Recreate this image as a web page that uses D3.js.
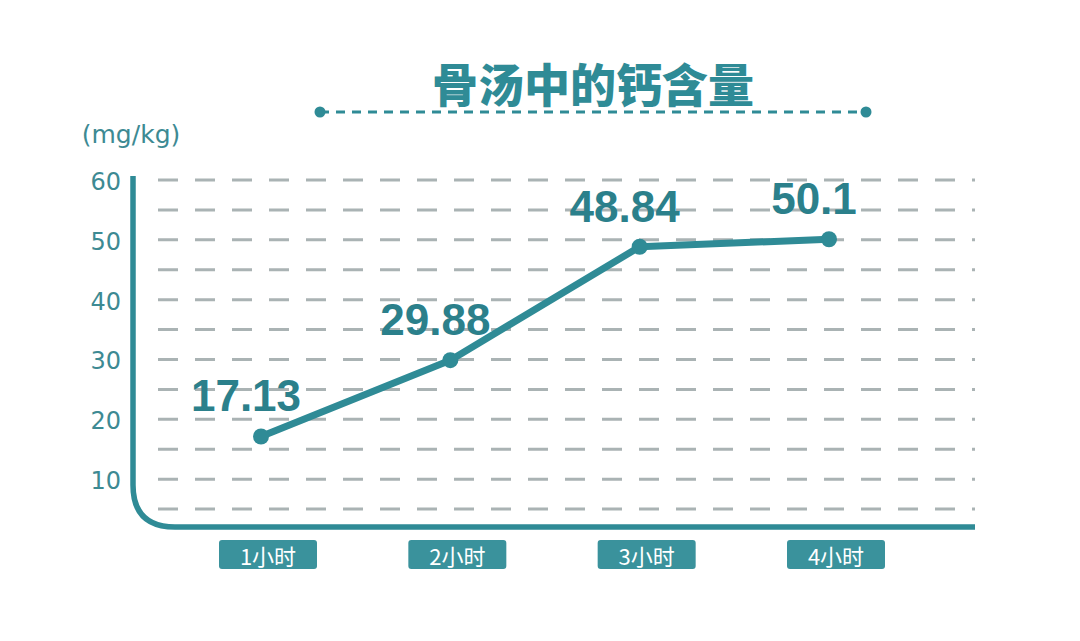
<!DOCTYPE html>
<html><head><meta charset="utf-8">
<script src="https://cdn.jsdelivr.net/npm/d3@7"></script>
<style>body{margin:0;background:#fff}svg{display:block}</style>
</head><body>
<script>
const categories = ["1小时", "2小时", "3小时", "4小时"];
const values = [17.13, 29.88, 48.84, 50.1];
const valueLabels = ["17.13", "29.88", "48.84", "50.1"];
const yTicks = [10, 20, 30, 40, 50, 60];
const gridValues = [5, 10, 15, 20, 25, 30, 35, 40, 45, 50, 55, 60];
const title = "骨汤中的钙含量";
const unit = "(mg/kg)";

const W = 1080, H = 641;
const teal = "#2f8b96";
const svg = d3.select("body").append("svg").attr("width", W).attr("height", H);
svg.append("rect").attr("width", W).attr("height", H).attr("fill", "#fff");

const x = d3.scalePoint().domain(categories).range([261, 829]);
const y = d3.scaleLinear().domain([2, 60]).range([527, 180]);

// grid
svg.append("g").selectAll("line").data(gridValues).join("line")
  .attr("x1", 158).attr("x2", 975)
  .attr("y1", d => y(d)).attr("y2", d => y(d))
  .attr("stroke", "#aab3b4").attr("stroke-width", 3)
  .attr("stroke-dasharray", "20 17");

// axis: vertical + rounded corner + baseline
const x0 = 133, yTop = 176, yBase = y(2), r = 42;
svg.append("path")
  .attr("d", `M${x0},${yTop} L${x0},${yBase - r} Q${x0},${yBase} ${x0 + r},${yBase} L975,${yBase}`)
  .attr("fill", "none").attr("stroke", teal).attr("stroke-width", 5.5);

// y ticks
svg.append("g").selectAll("text").data(yTicks).join("text")
  .attr("x", 121).attr("y", d => y(d) + 3)
  .attr("text-anchor", "end").attr("dominant-baseline", "middle")
  .attr("font-family", "'DejaVu Sans', sans-serif").attr("font-size", 24)
  .attr("fill", "#3d8a93").text(d => d);

svg.append("text").attr("x", 131).attr("y", 143).attr("text-anchor", "middle")
  .attr("font-family", "'DejaVu Sans', sans-serif").attr("font-size", 25)
  .attr("fill", "#3d8a93").text(unit);

// title
svg.append("text").attr("x", 593).attr("y", 102).attr("text-anchor", "middle")
  .attr("font-family", "'Noto Sans CJK SC', sans-serif").attr("font-weight", 900)
  .attr("font-size", 46).attr("fill", teal).text(title);
svg.append("line").attr("x1", 320).attr("x2", 866).attr("y1", 112).attr("y2", 112)
  .attr("stroke", teal).attr("stroke-width", 3).attr("stroke-dasharray", "9 7");
svg.append("g").selectAll("circle").data([320, 866]).join("circle")
  .attr("cx", d => d).attr("cy", 112).attr("r", 5.5).attr("fill", teal);

// line
const line = d3.line().x((d, i) => x(categories[i])).y(d => y(d));
svg.append("path").datum(values).attr("d", line)
  .attr("fill", "none").attr("stroke", teal).attr("stroke-width", 7)
  .attr("stroke-linejoin", "round").attr("stroke-linecap", "round");
svg.append("g").selectAll("circle").data(values).join("circle")
  .attr("cx", (d, i) => x(categories[i])).attr("cy", d => y(d)).attr("r", 8).attr("fill", teal);

// value labels
svg.append("g").selectAll("text").data(values).join("text")
  .attr("x", (d, i) => x(categories[i]) - 15).attr("y", d => y(d) - 25)
  .attr("text-anchor", "middle")
  .attr("font-family", "'Liberation Sans', Arial, sans-serif").attr("font-weight", "bold")
  .attr("font-size", 44).attr("fill", "#2b808b")
  .text((d, i) => valueLabels[i]);

// x labels
const xl = svg.append("g").selectAll("g").data(categories).join("g")
  .attr("transform", d => `translate(${x(d) + 7},554)`);
xl.append("rect").attr("x", -49).attr("y", -14).attr("width", 98).attr("height", 29)
  .attr("rx", 3).attr("fill", "#3a929c");
xl.append("text").attr("text-anchor", "middle").attr("dominant-baseline", "central").attr("y", 1)
  .attr("font-family", "'Noto Sans CJK SC', sans-serif").attr("font-size", 22)
  .attr("fill", "#fff").text(d => d);
</script>
</body></html>
